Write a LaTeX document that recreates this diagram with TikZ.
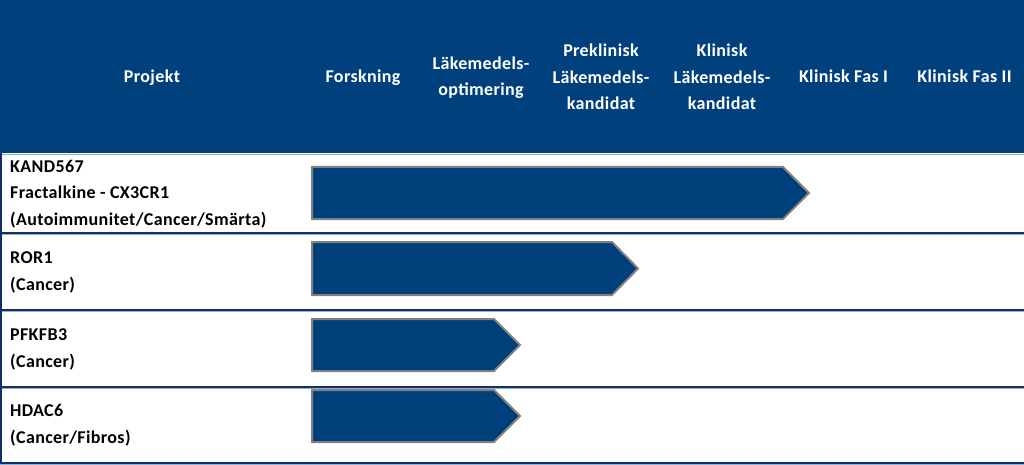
\documentclass[tikz,border=0pt]{standalone}
\usepackage{fontspec}
\setmainfont{Carlito}[LetterSpace=2]
\begin{document}
\begin{tikzpicture}[x=1pt,y=-1pt,
  hdr/.style={text=white,font=\bfseries\fontsize{18}{26.5}\selectfont,align=center,inner sep=0,anchor=base},
  lbl/.style={text=black,font=\bfseries\fontsize{18}{26.5}\selectfont,align=left,anchor=base west,inner sep=0},
  bar/.style={fill=barblue,draw=bargray,line width=2pt,line join=miter},
  sep/.style={draw=navy,line width=1.6pt},
  sepl/.style={draw=lightline,line width=1pt}]
\definecolor{hdrblue}{RGB}{0,65,125}
\definecolor{barblue}{RGB}{0,64,122}
\definecolor{bargray}{RGB}{128,128,128}
\definecolor{navy}{RGB}{20,45,100}
\definecolor{lightline}{RGB}{140,180,220}
\useasboundingbox (0,0) rectangle (1024,465);
\fill[hdrblue] (0,0) rectangle (1024,153);
% separators
\coordinate (s0l) at (0,154.5); \coordinate (s0r) at (1024,154.5);
\draw[sepl] (s0l) -- (s0r);
\foreach \yy in {233,310,387,463}{
  \draw[sep] (0,\yy) -- (1024,\yy);
  \draw[sepl] (0,\yy+1.5) -- (1024,\yy+1.5);
}
\draw[sep] (1,153) -- (1,463);
% header texts (anchor = baseline of last line)
\node[hdr] (hp) at (152,83) {Projekt};
\node[hdr] (hf) at (363,83) {Forskning};
\node[hdr] (ho) at (481,96) {Läkemedels-\\optimering};
\node[hdr] (hpk) at (601,110) {Preklinisk\\Läkemedels-\\kandidat};
\node[hdr] (hk) at (722,110) {Klinisk\\Läkemedels-\\kandidat};
\node[hdr] (hf1) at (843.5,83) {Klinisk Fas I};
\node[hdr] (hf2) at (964.5,83) {Klinisk Fas II};
% row labels
\node[lbl] (l1) at (10,225) {KAND567\\Fractalkine - CX3CR1\\(Autoimmunitet/Cancer/Smärta)};
\node[lbl] (l2) at (10,290) {ROR1\\(Cancer)};
\node[lbl] (l3) at (10,367) {PFKFB3\\(Cancer)};
\node[lbl] (l4) at (10,443) {HDAC6\\(Cancer/Fibros)};
% bars
\draw[bar] (312,167) -- (783,167) -- (809,193) -- (783,219) -- (312,219) -- cycle;
\draw[bar] (312,242) -- (612,242) -- (638,268.5) -- (612,295) -- (312,295) -- cycle;
\draw[bar] (312,319) -- (494,319) -- (520,345) -- (494,371) -- (312,371) -- cycle;
\draw[bar] (312,390) -- (494,390) -- (520,416) -- (494,442) -- (312,442) -- cycle;
\end{tikzpicture}
\end{document}
